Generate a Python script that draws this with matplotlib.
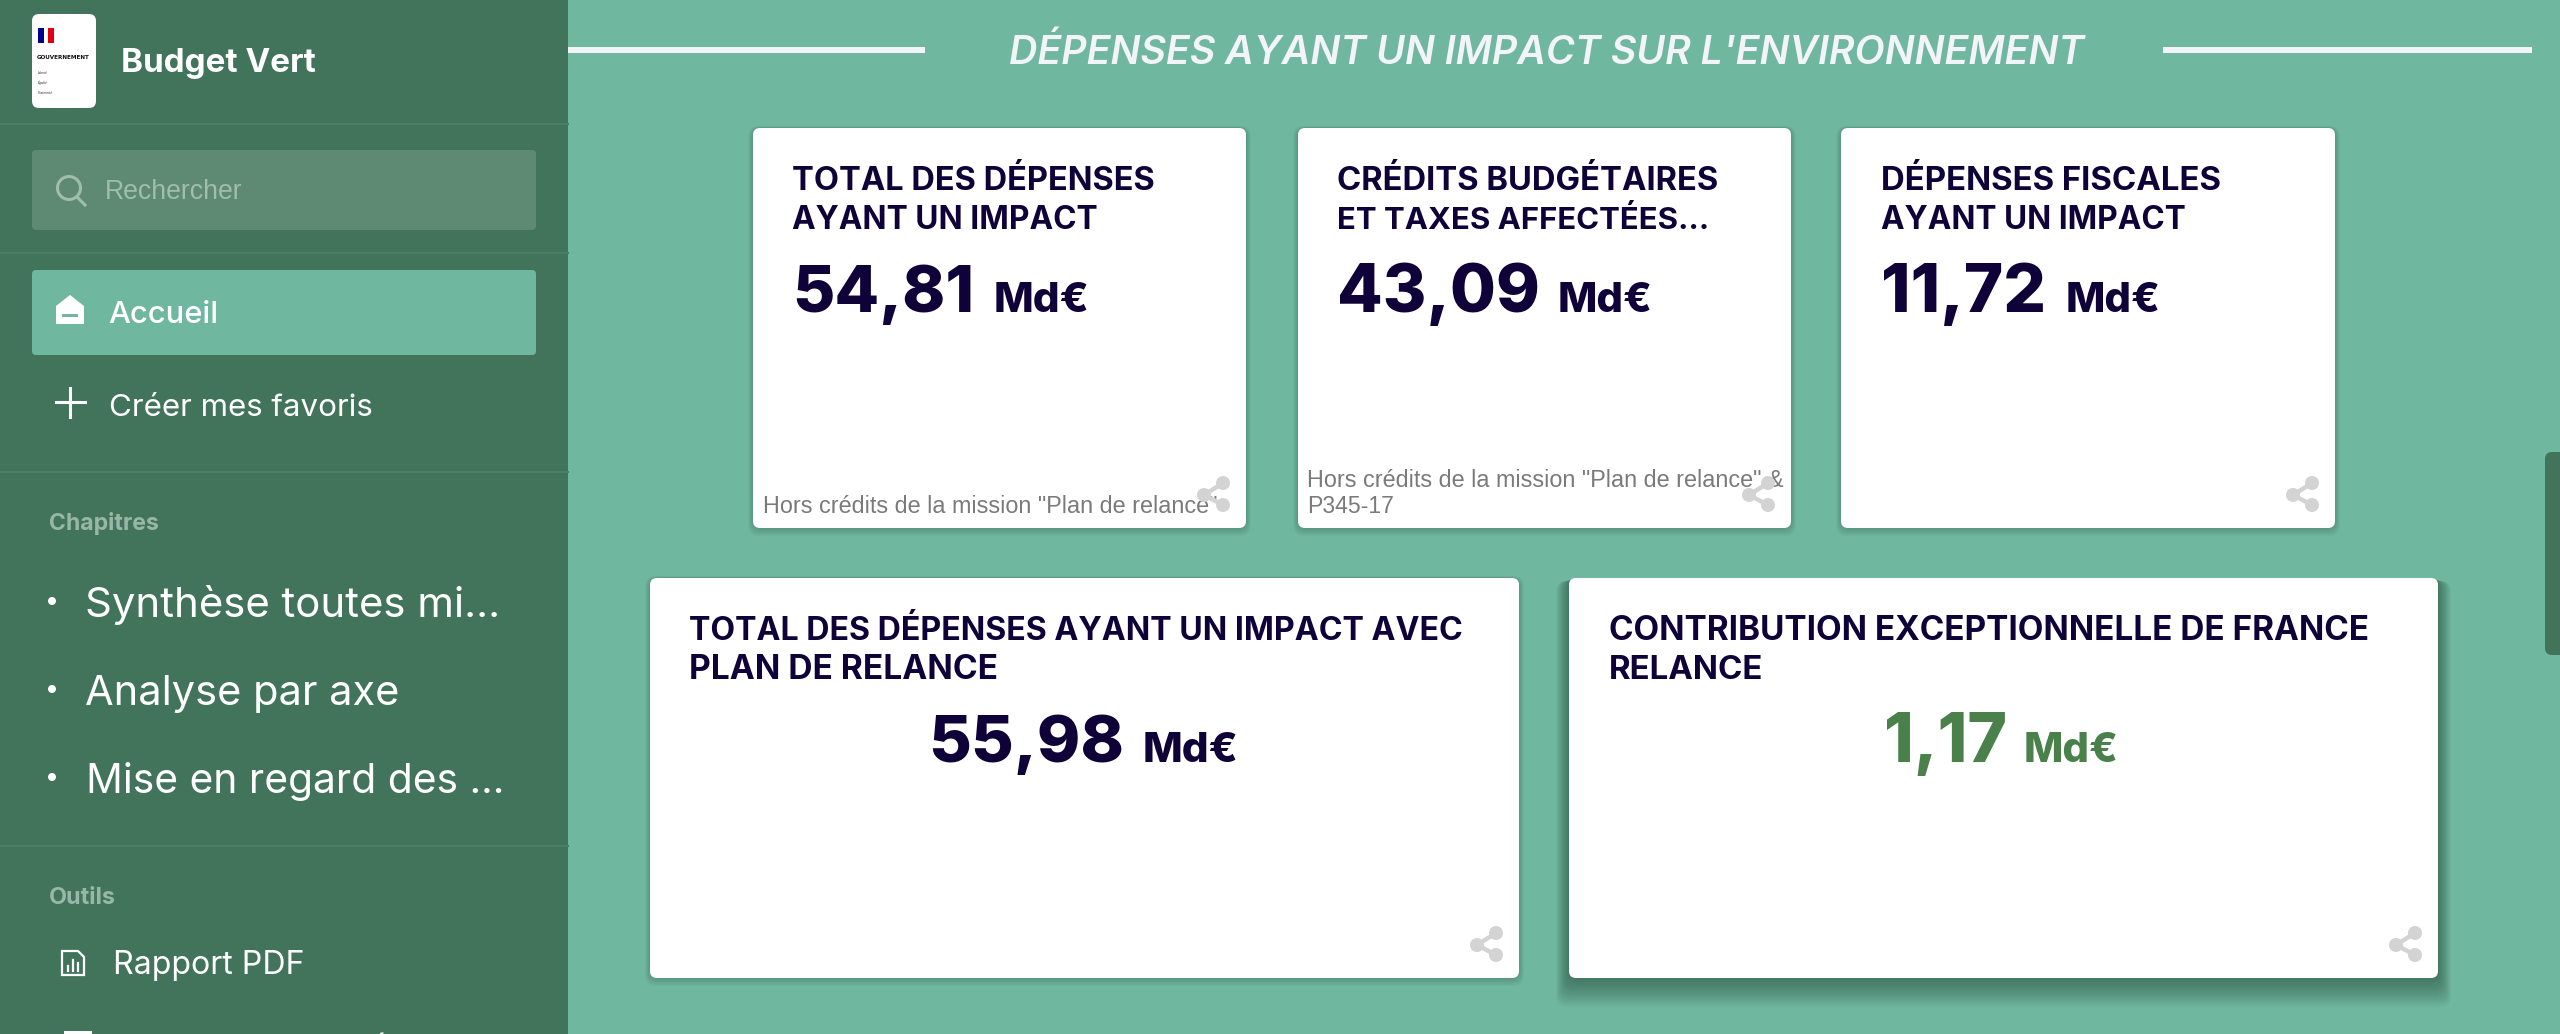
import matplotlib
matplotlib.use("Agg")
import matplotlib.pyplot as plt
from matplotlib.patches import Circle, FancyBboxPatch, Polygon, Rectangle

# ---------------------------------------------------------------------------
# Content
# ---------------------------------------------------------------------------
page_title = "DÉPENSES AYANT UN IMPACT SUR L'ENVIRONNEMENT"
card_titles = [
    ["TOTAL DES DÉPENSES", "AYANT UN IMPACT"],
    ["CRÉDITS BUDGÉTAIRES", "ET TAXES AFFECTÉES…"],
    ["DÉPENSES FISCALES", "AYANT UN IMPACT"],
    ["TOTAL DES DÉPENSES AYANT UN IMPACT AVEC", "PLAN DE RELANCE"],
    ["CONTRIBUTION EXCEPTIONNELLE DE FRANCE", "RELANCE"],
]
card_values = ["54,81", "43,09", "11,72", "55,98", "1,17"]
value_unit = "Md€"
card_notes = [
    ['Hors crédits de la mission "Plan de relance"'],
    ['Hors crédits de la mission "Plan de relance" &', "P345-17"],
    [],
    [],
    [],
]
chapters = ["Synthèse toutes mi...", "Analyse par axe", "Mise en regard des ..."]

# ---------------------------------------------------------------------------
# Layout (pixels of the 2560x1034 page) and colours
# ---------------------------------------------------------------------------
W, H = 2560, 1034
SIDEBAR = "#41745B"
PAGE = "#70B7A0"
NAVY = "#0E0238"
GREEN = "#4A8049"
SHARE = "#D3D3D3"
OFFWHITE = "#F2F4F8"
MUTED = "#98B7A7"
FONT = "Inter"

card_boxes = [(753, 128, 1246, 528), (1298, 128, 1791, 528), (1841, 128, 2335, 528),
              (650, 578, 1519, 978), (1569, 578, 2438, 978)]
# layers, spread per layer, drop per layer, alpha per layer
card_shadows = [(6, 0.8, 0.5, 0.045)] * 4 + [(16, 0.8, 1.0, 0.04)]
title_x = [792, 1337, 1881, 689, 1609]
title_ends = [[1155, 1098], [1719, 1709], [2222, 2186], [1463, 998], [2370, 1764]]
value_spans = [(792, 974), (1337, 1540), (1881, 2046), (928, 1124), (1884, 2007)]
unit_spans = [(994, 1090), (1558, 1653), (2066, 2161), (1143, 1239), (2024, 2119)]
note_spans = [[(763, 1215, 513)], [(1307, 1781, 487), (1307, 1394, 513)], [], [], []]
chapter_spans = [(85, 499, 617), (85, 399, 705), (86, 504, 793)]

fig = plt.figure(figsize=(W / 100, H / 100), dpi=100, facecolor=PAGE)
ax = fig.add_axes([0, 0, 1, 1])
ax.set_xlim(0, W)
ax.set_ylim(H, 0)
ax.axis("off")
renderer = fig.canvas.get_renderer()


def put_text(s, x0, x1, base, color, weight="normal", family=FONT, style="normal", stretch="normal", zorder=6):
    """Write s on a baseline, sized so it runs from x0 to x1."""
    t = ax.text(x0, base, s, color=color, fontsize=20, fontweight=weight, family=family,
                fontstyle=style, fontstretch=stretch, va="baseline", ha="left", zorder=zorder)
    width = t.get_window_extent(renderer).width
    t.set_fontsize(20 * (x1 - x0) / width)
    return t


def round_box(x0, y0, x1, y1, color, radius=6, alpha=1.0, zorder=2):
    ax.add_patch(FancyBboxPatch((x0 + radius, y0 + radius), x1 - x0 - 2 * radius, y1 - y0 - 2 * radius,
                                boxstyle=f"round,pad={radius},rounding_size={radius}",
                                fc=color, ec="none", alpha=alpha, zorder=zorder))


def draw_share(right, bottom):
    top_pt = (right - 7, bottom - 29)
    mid_pt = (right - 26, bottom - 17)
    low_pt = (right - 7, bottom - 7)
    ax.plot([top_pt[0], mid_pt[0], low_pt[0]], [top_pt[1], mid_pt[1], low_pt[1]],
            color=SHARE, lw=3.2, zorder=7)
    for p in (top_pt, mid_pt, low_pt):
        ax.add_patch(Circle(p, 7, fc=SHARE, ec="none", zorder=7))


# ---------------------------------------------------------------------------
# Main panel
# ---------------------------------------------------------------------------
ax.add_patch(Rectangle((568, 47), 357, 6, fc=OFFWHITE, ec="none", zorder=2))
ax.add_patch(Rectangle((2163, 47), 369, 6, fc=OFFWHITE, ec="none", zorder=2))
put_text(page_title, 1009, 2085, 64, OFFWHITE, weight="semibold", style="italic")

for i, (x0, y0, x1, y1) in enumerate(card_boxes):
    # soft shadow, a stack of faint boxes falling below the card
    layers, spread, drop, alpha = card_shadows[i]
    for k in range(1, layers + 1):
        s = k * spread
        d = k * drop
        round_box(x0 - s, y0 - s + d, x1 + s, y1 + s + d, "#1E4030", radius=10, alpha=alpha, zorder=1)
    round_box(x0, y0, x1, y1, "white", radius=7)

    base = [190, 229] if y0 < 300 else [640, 679]
    for line, end, b in zip(card_titles[i], title_ends[i], base):
        put_text(line, title_x[i], end, b, NAVY, weight="bold")

    colour = GREEN if i == 4 else NAVY
    value_base = 312 if y0 < 300 else 762
    put_text(card_values[i], *value_spans[i], value_base, colour, weight=800)
    put_text(value_unit, *unit_spans[i], value_base, colour, weight=800)

    for line, (a, b, y) in zip(card_notes[i], note_spans[i]):
        put_text(line, a, b, y, "#7A7A7A", family="Liberation Sans")
    draw_share(x1 - 16, y1 - 16)

# scrollbar
round_box(2545, 452, 2572, 655, SIDEBAR, radius=7, zorder=3)

# ---------------------------------------------------------------------------
# Sidebar
# ---------------------------------------------------------------------------
ax.add_patch(Rectangle((0, 0), 568, H, fc=SIDEBAR, ec="none", zorder=3))
for y in (124, 253, 472, 846):
    ax.plot([0, 568], [y, y], color="#4C7D65", lw=1.5, zorder=4)

# logo
round_box(32, 14, 96, 108, "white", radius=7, zorder=5)
ax.add_patch(Rectangle((38, 28), 6, 15, fc="#000091", ec="none", zorder=6))
ax.add_patch(Rectangle((48, 28), 6, 15, fc="#E1000F", ec="none", zorder=6))
put_text("GOUVERNEMENT", 37, 90, 59, "#111111", weight="bold", family="DejaVu Sans", stretch="condensed")
for s, end, y in zip(["Liberté", "Égalité", "Fraternité"], [48, 48, 53], [74, 84, 94]):
    put_text(s, 38, end, y, "#333333", family="Liberation Sans", style="italic")
put_text("Budget Vert", 121, 316, 72, "white", weight="bold")

# search
round_box(32, 150, 536, 230, "#5E8973", radius=4, zorder=5)
ax.add_patch(Circle((69, 188), 11.5, fc="none", ec="#A0BDAE", lw=2.2, zorder=6))
ax.plot([77, 85], [197, 205], color="#A0BDAE", lw=2.2, zorder=6)
put_text("Rechercher", 105, 242, 199, "#A0BDAE", family="Liberation Sans")

# current page
round_box(32, 270, 536, 355, PAGE, radius=4, zorder=5)
ax.add_patch(Polygon([(56, 324), (56, 306), (70, 295), (84, 306), (84, 324)], fc="white", ec="none", zorder=6))
ax.add_patch(Rectangle((62, 314), 16, 3, fc=PAGE, ec="none", zorder=7))
put_text("Accueil", 108, 218, 323, "white", weight="medium")

ax.plot([70, 70], [388, 417], color="white", lw=2.2, zorder=6)
ax.plot([56, 85], [402, 402], color="white", lw=2.2, zorder=6)
put_text("Créer mes favoris", 109, 373, 416, "white")

put_text("Chapitres", 49, 159, 530, MUTED, weight="bold")
for s, (a, b, y) in zip(chapters, chapter_spans):
    put_text(s, a, b, y, "white")
    ax.add_patch(Circle((52, y - 16), 4, fc="white", ec="none", zorder=6))

put_text("Outils", 49, 116, 904, MUTED, weight="bold")
ax.add_patch(Polygon([(62, 951), (78, 951), (84, 957), (84, 975), (62, 975)], fc="none", ec="white", lw=1.6, zorder=6))
for x, top in zip((68, 73, 78), (966, 960, 963)):
    ax.plot([x, x], [top, 971], color="white", lw=1.6, zorder=6)
put_text("Rapport PDF", 113, 305, 974, "white")

# next menu entry, only the tops of its letters are on the page
ax.add_patch(Rectangle((64, 1031), 28, 10, fc="white", ec="none", zorder=6))
put_text("Focus sur les crédits mi", 114, 495, 1059, "white")

fig.savefig("out.png", dpi=100, facecolor=PAGE)
